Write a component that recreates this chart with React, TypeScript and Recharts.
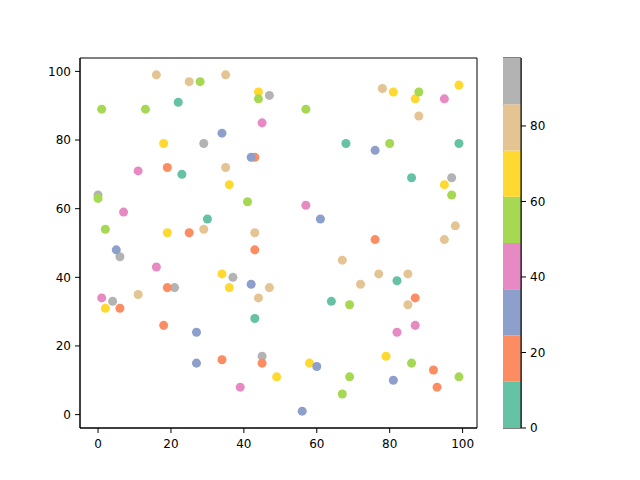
import { ScatterChart, Scatter, XAxis, YAxis, ZAxis, Cell, ReferenceArea, BarChart, Bar } from 'recharts'

// Set2 colormap, 8 levels
const SET2 = ['#66c2a5', '#fc8d62', '#8da0cb', '#e78ac3', '#a6d854', '#ffd92f', '#e5c494', '#b3b3b3']
const C_RANGE = [0, 98]

const X_TICKS = [0, 20, 40, 60, 80, 100]
const Y_TICKS = [0, 20, 40, 60, 80, 100]
const C_TICKS = [0, 20, 40, 60, 80]

// grouped by colour (drawing order: grey, tan, yellow, orange, blue, pink, green, teal)
const X = [
  0, 4, 6, 21, 29, 37, 45, 47, 97,
  11, 16, 25, 29, 35, 35, 43, 44, 47, 67, 72, 77, 78, 85, 85, 88, 95, 98,
  2, 18, 19, 34, 36, 36, 44, 49, 58, 79, 81, 87, 95, 99,
  6, 18, 19, 19, 25, 34, 43, 43, 45, 76, 87, 92, 93,
  5, 27, 27, 34, 42, 42, 56, 60, 61, 76, 81,
  1, 7, 11, 16, 39, 45, 57, 82, 87, 95,
  0, 1, 2, 13, 28, 41, 44, 57, 67, 69, 69, 80, 86, 88, 97, 99,
  22, 23, 30, 43, 64, 68, 82, 86, 99,
]
const Y = [
  64, 33, 46, 37, 79, 40, 17, 93, 69,
  35, 99, 97, 54, 99, 72, 53, 34, 37, 45, 38, 41, 95, 41, 32, 87, 51, 55,
  31, 79, 53, 41, 67, 37, 94, 11, 15, 17, 94, 92, 67, 96,
  31, 26, 72, 37, 53, 16, 75, 48, 15, 51, 34, 13, 8,
  48, 24, 15, 82, 75, 38, 1, 14, 57, 77, 10,
  34, 59, 71, 43, 8, 85, 61, 24, 26, 92,
  63, 89, 54, 89, 97, 62, 92, 89, 6, 32, 11, 79, 15, 94, 64, 11,
  91, 70, 57, 28, 33, 79, 39, 69, 79,
]
const C = [
  92, 92, 92, 92, 92, 92, 92, 92, 92,
  80, 80, 80, 80, 80, 80, 80, 80, 80, 80, 80, 80, 80, 80, 80, 80, 80, 80,
  68, 68, 68, 68, 68, 68, 68, 68, 68, 68, 68, 68, 68, 68,
  18, 18, 18, 18, 18, 18, 18, 18, 18, 18, 18, 18, 18,
  31, 31, 31, 31, 31, 31, 31, 31, 31, 31, 31,
  43, 43, 43, 43, 43, 43, 43, 43, 43, 43,
  55, 55, 55, 55, 55, 55, 55, 55, 55, 55, 55, 55, 55, 55, 55, 55,
  6, 6, 6, 6, 6, 6, 6, 6, 6,
]

function colorFor(c: number) {
  const t = (c - C_RANGE[0]) / (C_RANGE[1] - C_RANGE[0])
  return SET2[Math.min(SET2.length - 1, Math.floor(t * SET2.length))]
}

const points = X.map((x, i) => ({ x, y: Y[i], c: C[i] }))

// matplotlib-style 5% margins
const xDomain = [-4.95, 103.95]
const yDomain = [-3.9, 103.9]

const bandRow: Record<string, number | string> = { name: 'cb' }
SET2.forEach((_, i) => {
  bandRow[`b${i}`] = (C_RANGE[1] - C_RANGE[0]) / SET2.length
})

const tickStyle = { fill: '#000', fontSize: 12, fontFamily: 'DejaVu Sans' }

export default function App() {
  return (
    <div style={{ position: 'absolute', left: 0, top: 0, width: 640, height: 480, background: '#fff' }}>
      <div style={{ position: 'absolute', left: 0, top: 0 }}>
        <ScatterChart width={640} height={480} margin={{ top: 58, right: 163, bottom: 22, left: 20 }}>
          <XAxis
            type="number"
            dataKey="x"
            domain={xDomain}
            ticks={X_TICKS}
            allowDataOverflow
            height={30}
            tickSize={5}
            tickMargin={6}
            stroke="#000"
            tick={tickStyle}
          />
          <YAxis
            type="number"
            dataKey="y"
            domain={yDomain}
            ticks={Y_TICKS}
            allowDataOverflow
            width={60}
            tickSize={5}
            tickMargin={4}
            stroke="#000"
            tick={tickStyle}
          />
          <ZAxis range={[80, 80]} />
          <ReferenceArea x1={xDomain[0]} x2={xDomain[1]} y1={yDomain[0]} y2={yDomain[1]} fill="none" stroke="#000" strokeWidth={1} />
          <Scatter data={points} isAnimationActive={false}>
            {points.map((p, i) => (
              <Cell key={i} fill={colorFor(p.c)} />
            ))}
          </Scatter>
        </ScatterChart>
      </div>
      <div style={{ position: 'absolute', left: 503, top: 0 }}>
        <BarChart width={68} height={480} data={[bandRow]} margin={{ top: 58, right: 0, bottom: 52, left: 0 }} barCategoryGap={0}>
          <XAxis dataKey="name" hide />
          <YAxis
            orientation="right"
            type="number"
            domain={C_RANGE}
            ticks={C_TICKS}
            allowDataOverflow
            width={50}
            tickSize={5}
            tickMargin={4}
            stroke="#000"
            tick={{ ...tickStyle, textAnchor: 'start' }}
          />
          {SET2.map((col, i) => (
            <Bar key={i} dataKey={`b${i}`} stackId="cb" fill={col} isAnimationActive={false} />
          ))}
          <ReferenceArea y1={C_RANGE[0]} y2={C_RANGE[1]} fill="none" stroke="#000" strokeWidth={1} />
        </BarChart>
      </div>
    </div>
  )
}
